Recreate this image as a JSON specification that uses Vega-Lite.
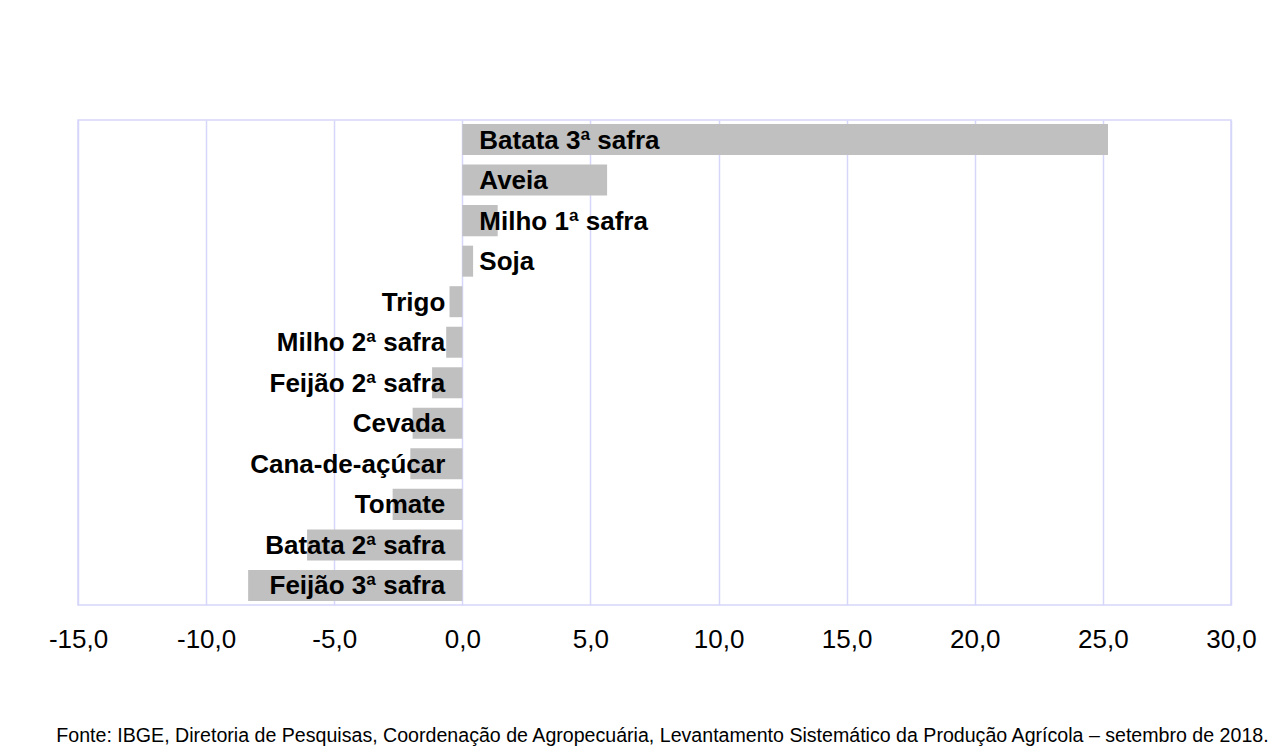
{
  "$schema": "https://vega.github.io/schema/vega-lite/v6.json",
  "width": 1153,
  "height": 485,
  "autosize": {"type": "none"},
  "padding": {"left": 78, "top": 120, "right": 53, "bottom": 143},
  "background": "white",
  "config": {
    "view": {"stroke": "#D6D6FA", "strokeWidth": 1.5},
    "font": "Liberation Sans"
  },
  "title": {
    "text": "Fonte: IBGE, Diretoria de Pesquisas, Coordenação de Agropecuária, Levantamento Sistemático da Produção Agrícola – setembro de 2018.",
    "orient": "bottom",
    "anchor": "middle",
    "frame": "group",
    "fontSize": 19.6,
    "fontWeight": "normal",
    "font": "Liberation Sans",
    "color": "black",
    "baseline": "alphabetic",
    "offset": 90,
    "dx": 8
  },
  "data": {
    "values": [
      {"cultura": "Batata 3ª safra", "variacao": 25.2},
      {"cultura": "Aveia", "variacao": 5.65},
      {"cultura": "Milho 1ª safra", "variacao": 1.38},
      {"cultura": "Soja", "variacao": 0.42},
      {"cultura": "Trigo", "variacao": -0.5},
      {"cultura": "Milho 2ª safra", "variacao": -0.63},
      {"cultura": "Feijão 2ª safra", "variacao": -1.18},
      {"cultura": "Cevada", "variacao": -1.94},
      {"cultura": "Cana-de-açúcar", "variacao": -2.03},
      {"cultura": "Tomate", "variacao": -2.72},
      {"cultura": "Batata 2ª safra", "variacao": -6.06},
      {"cultura": "Feijão 3ª safra", "variacao": -8.36}
    ]
  },
  "encoding": {
    "y": {
      "field": "cultura",
      "type": "nominal",
      "sort": null,
      "axis": null,
      "scale": {"paddingInner": 0.235, "paddingOuter": 0.1}
    }
  },
  "layer": [
    {
      "mark": {"type": "bar", "color": "#C0C0C0"},
      "encoding": {
        "x": {
          "field": "variacao",
          "type": "quantitative",
          "scale": {"domain": [-15, 30], "nice": false, "zero": false},
          "axis": {
            "values": [-15, -10, -5, 0, 5, 10, 15, 20, 25, 30],
            "title": null,
            "grid": true,
            "gridColor": "#D6D6FA",
            "gridWidth": 1.5,
            "domain": false,
            "ticks": false,
            "tickSize": 0,
            "labelFlush": false,
            "labelOverlap": false,
            "labelFontSize": 26,
            "labelFont": "Liberation Sans",
            "labelColor": "black",
            "labelBaseline": "alphabetic",
            "labelPadding": 42,
            "labelExpr": "replace(replace(format(datum.value, '.1f'), '.', ','), '−', '-')"
          }
        },
        "x2": {"datum": 0}
      }
    },
    {
      "mark": {"type": "rule", "color": "#C4C4F4", "strokeWidth": 2.5},
      "encoding": {"x": {"datum": 0, "type": "quantitative"}}
    },
    {
      "transform": [{"filter": "datum.variacao >= 0"}],
      "mark": {"type": "text", "align": "left", "baseline": "alphabetic", "dx": 17, "dy": 9, "fontSize": 26, "fontWeight": "bold", "font": "Liberation Sans", "color": "black"},
      "encoding": {
        "x": {"datum": 0, "type": "quantitative"},
        "text": {"field": "cultura"}
      }
    },
    {
      "transform": [{"filter": "datum.variacao < 0"}],
      "mark": {"type": "text", "align": "right", "baseline": "alphabetic", "dx": -17, "dy": 9, "fontSize": 26, "fontWeight": "bold", "font": "Liberation Sans", "color": "black"},
      "encoding": {
        "x": {"datum": 0, "type": "quantitative"},
        "text": {"field": "cultura"}
      }
    }
  ]
}
